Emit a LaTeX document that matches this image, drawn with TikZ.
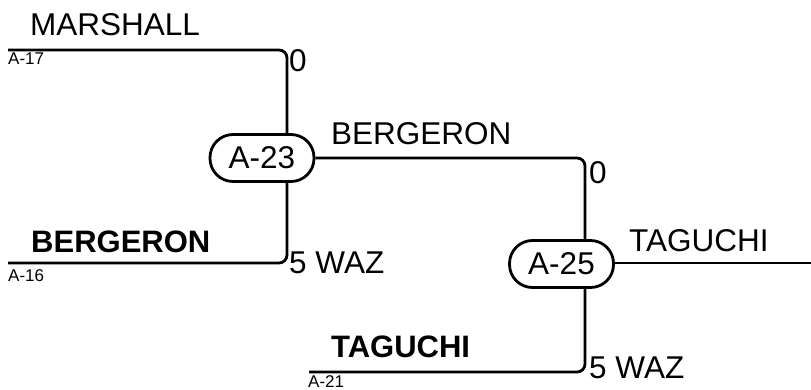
\documentclass[tikz,border=0pt]{standalone}
\usepackage{fontspec}
\setmainfont{Liberation Sans}
\begin{document}
\begin{tikzpicture}[x=1pt,y=1pt,
  wire/.style={line width=2.8pt,rounded corners=8pt},
  match/.style={draw,line width=2.8pt,rounded corners=23pt,minimum width=104pt,minimum height=47pt,inner sep=0pt,font=\fontsize{31.5}{31.5}\selectfont},
  big/.style={anchor=base west,inner sep=0pt,font=\fontsize{31.5}{31.5}\selectfont},
  bigb/.style={anchor=base west,inner sep=0pt,font=\fontsize{31}{31}\selectfont\bfseries},
  small/.style={anchor=base west,inner sep=0pt,font=\fontsize{17}{17}\selectfont}]
\useasboundingbox (0,0) rectangle (811,389);
% match nodes
\node[match] (n23) at (262,231) {A-23};
\node[match] (n25) at (561.5,125) {A-25};
% coordinates
\coordinate (a17) at (8,339);
\coordinate (c17) at (287,339);
\coordinate (a16) at (8,126);
\coordinate (c16) at (287,126);
\coordinate (c23) at (585,231);
\coordinate (a21) at (309,17);
\coordinate (c21) at (585,17);
\coordinate (out) at (811,126);
% connectors
\draw[wire] (a17) -- (c17) -- (c17 |- n23.north);
\draw[wire] (a16) -- (c16) -- (c16 |- n23.south);
\draw[wire] (n23.east) -- (c23) -- (c23 |- n25.north);
\draw[wire] (a21) -- (c21) -- (c21 |- n25.south);
\draw[wire] (n25.east |- out) -- (out);
% labels
\node[big] (lm) at (30,353) {MARSHALL};
\node[small] (l17) at (8,324) {A-17};
\node[big] (z1) at (289,317) {0};
\node[big] (lb) at (331,245) {BERGERON};
\node[big] (z2) at (589,206) {0};
\node[bigb] (lbb) at (31,137) {BERGERON};
\node[small] (l16) at (8,108) {A-16};
\node[big] (w1) at (289,116) {5 WAZ};
\node[big] (lt) at (629,138) {TAGUCHI};
\node[bigb] (ltb) at (331,32) {TAGUCHI};
\node[small] (l21) at (308,2) {A-21};
\node[big] (w2) at (589,11) {5 WAZ};
\end{tikzpicture}
\end{document}
